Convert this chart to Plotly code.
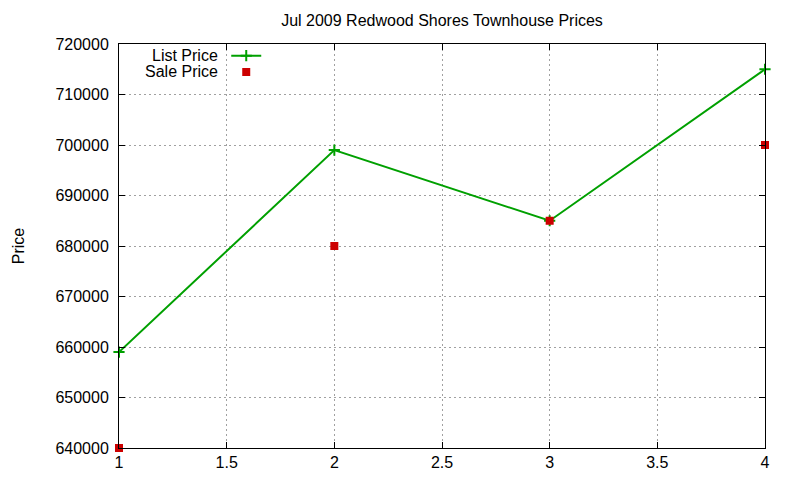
import plotly.graph_objects as go

# data
weeks = [1, 2, 3, 4]
list_price = [659000, 699000, 685000, 715000]
sale_price = [640000, 680000, 685000, 700000]

x_ticks = [1, 1.5, 2, 2.5, 3, 3.5, 4]
y_ticks = [640000, 650000, 660000, 670000, 680000, 690000, 700000, 710000, 720000]

FONT = 'Liberation Sans, Arial, sans-serif'

fig = go.Figure()

# legend names left blank, labels go to the left of the keys (gnuplot style)
fig.add_trace(go.Scatter(
    x=weeks, y=list_price,
    mode='lines+markers',
    name=' ',
    hovertext='List Price',
    legend='legend',
    line=dict(color='#00a000', width=2),
    marker=dict(symbol='cross-thin', size=8, line=dict(color='#00a000', width=2)),
    cliponaxis=False,
))

fig.add_trace(go.Scatter(
    x=weeks, y=sale_price,
    mode='markers',
    name=' ',
    hovertext='Sale Price',
    legend='legend2',
    marker=dict(symbol='square', size=8, color='#cc0000'),
    cliponaxis=False,
))

axis_common = dict(
    showline=True, linecolor='black', linewidth=1, mirror='ticks',
    ticks='inside', ticklen=6, tickcolor='black',
    showgrid=True, gridcolor='#a0a0a0', griddash='2px,3px', gridwidth=1,
    zeroline=False, automargin=False,
    tickfont=dict(family=FONT, size=16, color='black'),
)

legend_common = dict(
    xanchor='left', yanchor='middle',
    bgcolor='rgba(0,0,0,0)',
    font=dict(family=FONT, size=10, color='black'),
    itemwidth=30,
)

fig.update_layout(
    width=784, height=464,
    paper_bgcolor='white', plot_bgcolor='white',
    margin=dict(l=111, r=27, t=36, b=24),
    title=dict(
        text='Jul 2009 Redwood Shores Townhouse Prices',
        xref='paper', x=0.5, xanchor='center', y=0.974, yanchor='middle',
        font=dict(family=FONT, size=16, color='black'),
    ),
    xaxis=dict(range=[1, 4], tickvals=x_ticks, ticktext=[str(v) for v in x_ticks], **axis_common),
    yaxis=dict(range=[640000, 720000], tickvals=y_ticks, ticktext=[str(v) for v in y_ticks],
               ticklabelstandoff=6, **axis_common),
    showlegend=True,
    legend=dict(x=0.166, y=0.971, **legend_common),
    legend2=dict(x=0.166, y=0.931, **legend_common),
)

# y axis title as an annotation so it can sit further out, like gnuplot
fig.add_annotation(
    text='Price', xref='paper', yref='paper', x=-0.156, y=0.5,
    xanchor='center', yanchor='middle', textangle=-90, showarrow=False,
    font=dict(family=FONT, size=16, color='black'),
)

# legend labels, right-aligned to the left of the keys
for label, yy in [('List Price', 0.971), ('Sale Price', 0.931)]:
    fig.add_annotation(
        text=label, xref='paper', yref='paper', x=0.157, y=yy,
        xanchor='right', yanchor='middle', showarrow=False,
        font=dict(family=FONT, size=16, color='black'),
    )

fig.write_html("out.html")
